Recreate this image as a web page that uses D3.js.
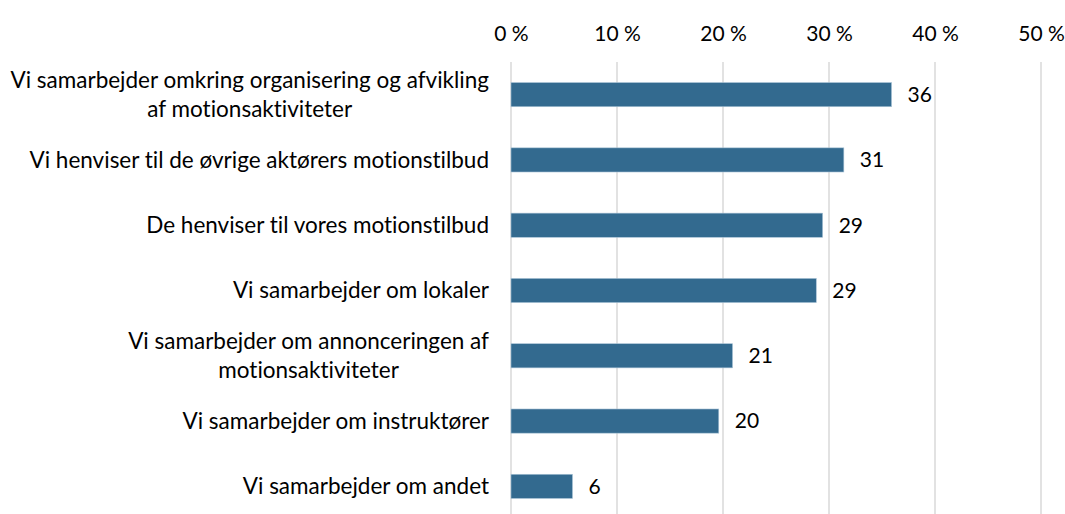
<!DOCTYPE html>
<html>
<head>
<meta charset="utf-8">
<script src="https://cdn.jsdelivr.net/npm/d3@7"></script>
<style>
  body { margin: 0; background: #fff; }
  svg { display: block; font-family: Lato, "Open Sans", sans-serif; font-variant-ligatures: none; }
</style>
</head>
<body>
<div id="chart"></div>
<script>
// Categories (each entry is the label's lines, as wrapped in the chart)
var categories = [
  ["Vi samarbejder omkring organisering og afvikling", "af motionsaktiviteter"],
  ["Vi henviser til de øvrige aktørers motionstilbud"],
  ["De henviser til vores motionstilbud"],
  ["Vi samarbejder om lokaler"],
  ["Vi samarbejder om annonceringen af", "motionsaktiviteter"],
  ["Vi samarbejder om instruktører"],
  ["Vi samarbejder om andet"]
];

// Percent values
var values = [35.9, 31.4, 29.4, 28.8, 20.9, 19.6, 5.8];

// Value labels as printed next to the bars
var valueLabels = ["36", "31", "29", "29", "21", "20", "6"];

// x axis ticks
var ticks = [0, 10, 20, 30, 40, 50];

var width = 1065, height = 514;

var svg = d3.select('#chart').append('svg')
  .attr('width', width)
  .attr('height', height);

var x = d3.scaleLinear()
  .domain([0, 50])
  .range([511, 1041]);

var keys = categories.map(function (c, i) { return i; });

var y = d3.scaleBand()
  .domain(keys)
  .range([62, 519])
  .paddingInner(0.63)
  .paddingOuter(0.315);

// gridlines
svg.append('g')
  .selectAll('line')
  .data(ticks)
  .enter().append('line')
  .attr('x1', d => x(d)).attr('x2', d => x(d))
  .attr('y1', 62).attr('y2', height)
  .attr('stroke', '#d9d9d9')
  .attr('stroke-width', 1.5);

// top axis labels
var axis = svg.append('g')
  .attr('transform', 'translate(0,62)')
  .call(d3.axisTop(x).tickValues(ticks).tickSize(0).tickPadding(21).tickFormat(d => d + ' %'));
axis.select('.domain').remove();
axis.selectAll('text')
  .style('font-family', 'Lato, "Open Sans", sans-serif')
  .style('font-size', '21px')
  .attr('fill', '#000');

// bars
svg.append('g')
  .selectAll('rect')
  .data(values)
  .enter().append('rect')
  .attr('x', x(0))
  .attr('y', (d, i) => y(i))
  .attr('width', d => x(d) - x(0))
  .attr('height', y.bandwidth())
  .attr('fill', '#336a8f')
  .attr('stroke', '#a9c3d6')
  .attr('stroke-width', 0.6);

// value labels
svg.append('g')
  .selectAll('text')
  .data(values)
  .enter().append('text')
  .attr('x', d => x(d) + 16)
  .attr('y', (d, i) => y(i) + y.bandwidth() / 2)
  .attr('dy', '0.35em')
  .style('font-size', '21px')
  .attr('fill', '#000')
  .text((d, i) => valueLabels[i]);

// category labels (multi-line labels are centred as a block, right-aligned)
var lineHeight = 29;
var labelRight = 489;

var labels = svg.append('g')
  .selectAll('g')
  .data(categories)
  .enter().append('g')
  .attr('transform', (d, i) => 'translate(0,' + (y(i) + y.bandwidth() / 2) + ')');

labels.each(function (lines) {
  var g = d3.select(this);
  var texts = g.selectAll('text')
    .data(lines)
    .enter().append('text')
    .attr('y', (d, j) => (j - (lines.length - 1) / 2) * lineHeight)
    .attr('dy', '0.35em')
    .style('font-size', '22.5px')
    .attr('fill', '#000')
    .text(d => d);

  var widths = [];
  texts.each(function () { widths.push(this.getComputedTextLength()); });
  var maxW = d3.max(widths);
  texts.attr('text-anchor', 'middle')
    .attr('x', labelRight - maxW / 2);
});
</script>
</body>
</html>
